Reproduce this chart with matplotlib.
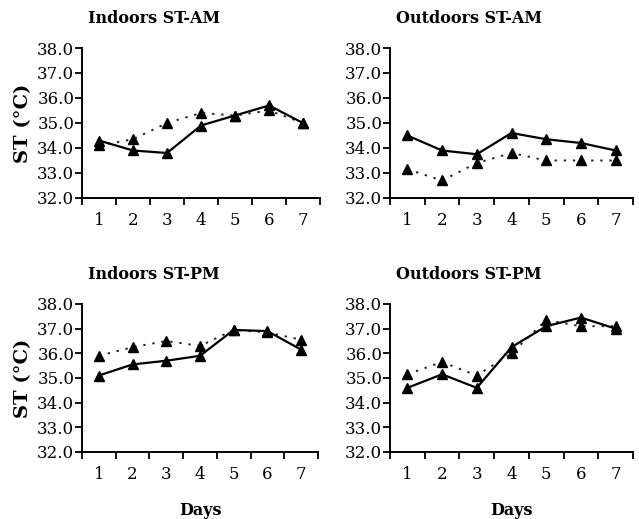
import matplotlib
matplotlib.use("Agg")
import matplotlib.pyplot as plt
import numpy as np

# Days 1..7
days = [1, 2, 3, 4, 5, 6, 7]
day_labels = ["1", "2", "3", "4", "5", "6", "7"]
y_ticks = [32.0, 33.0, 34.0, 35.0, 36.0, 37.0, 38.0]

titles = ["Indoors ST-AM", "Outdoors ST-AM", "Indoors ST-PM", "Outdoors ST-PM"]

# skin temperature, solid line series
in_am_solid = [34.3, 33.9, 33.8, 34.9, 35.3, 35.7, 35.0]
out_am_solid = [34.5, 33.9, 33.75, 34.6, 34.35, 34.2, 33.9]
in_pm_solid = [35.1, 35.55, 35.7, 35.9, 36.95, 36.9, 36.15]
out_pm_solid = [34.6, 35.15, 34.6, 36.25, 37.1, 37.45, 37.0]

# skin temperature, dotted line series
in_am_dotted = [34.1, 34.35, 35.0, 35.4, 35.3, 35.5, 35.0]
out_am_dotted = [33.15, 32.7, 33.4, 33.8, 33.5, 33.5, 33.5]
in_pm_dotted = [35.9, 36.25, 36.5, 36.3, 36.95, 36.85, 36.55]
out_pm_dotted = [35.15, 35.65, 35.1, 36.0, 37.35, 37.1, 37.1]

solid_series = [in_am_solid, out_am_solid, in_pm_solid, out_pm_solid]
dotted_series = [in_am_dotted, out_am_dotted, in_pm_dotted, out_pm_dotted]

plt.rcParams['font.family'] = ['DejaVu Serif']

W, H = 639, 519
fig = plt.figure(figsize=(W / 100, H / 100), dpi=100)

# axes boxes in pixels: (left, top, right, bottom)
boxes = [(82, 48, 320, 198), (390, 48, 633, 198),
         (82, 304, 318, 452), (390, 304, 633, 452)]

for i, (l, t, r, b) in enumerate(boxes):
    ax = fig.add_axes([l / W, 1 - b / H, (r - l) / W, (b - t) / H])

    # dotted series drawn first, solid on top
    ax.plot(days, dotted_series[i], color='#222222', lw=1.4,
            linestyle=(0, (1.2, 3.5)), marker='^', markersize=7,
            markerfacecolor='black', markeredgecolor='black', zorder=2)
    ax.plot(days, solid_series[i], color='black', lw=1.6,
            marker='^', markersize=7, markerfacecolor='black',
            markeredgecolor='black', zorder=3)

    ax.set_xlim(0.5, 7.5)
    ax.set_ylim(32.0, 38.0)
    ax.set_yticks(y_ticks)
    ax.set_yticklabels([f"{v:.1f}" for v in y_ticks])
    ax.set_xticks(days)
    ax.set_xticklabels(day_labels)
    ax.set_xticks(np.arange(0.5, 8.0, 1.0), minor=True)

    ax.tick_params(axis='x', which='major', length=0, pad=10, labelsize=12)
    ax.tick_params(axis='x', which='minor', length=5, width=1.3, direction='out')
    ax.tick_params(axis='y', length=5, width=1.3, pad=0.5, labelsize=12)

    for side in ['top', 'right']:
        ax.spines[side].set_visible(False)
    for side in ['left', 'bottom']:
        ax.spines[side].set_linewidth(1.4)
    ax.patch.set_alpha(0)

    ax.set_title(titles[i], loc='left', x=0.025, pad=18,
                 fontsize=11.5, fontweight='bold')

    if i % 2 == 0:
        ax.set_ylabel("ST (°C)", fontsize=14, fontweight='bold', labelpad=4)
    if i >= 2:
        ax.set_xlabel("Days", fontsize=11.5, fontweight='bold', labelpad=14)

fig.savefig("out.png", dpi=100)
